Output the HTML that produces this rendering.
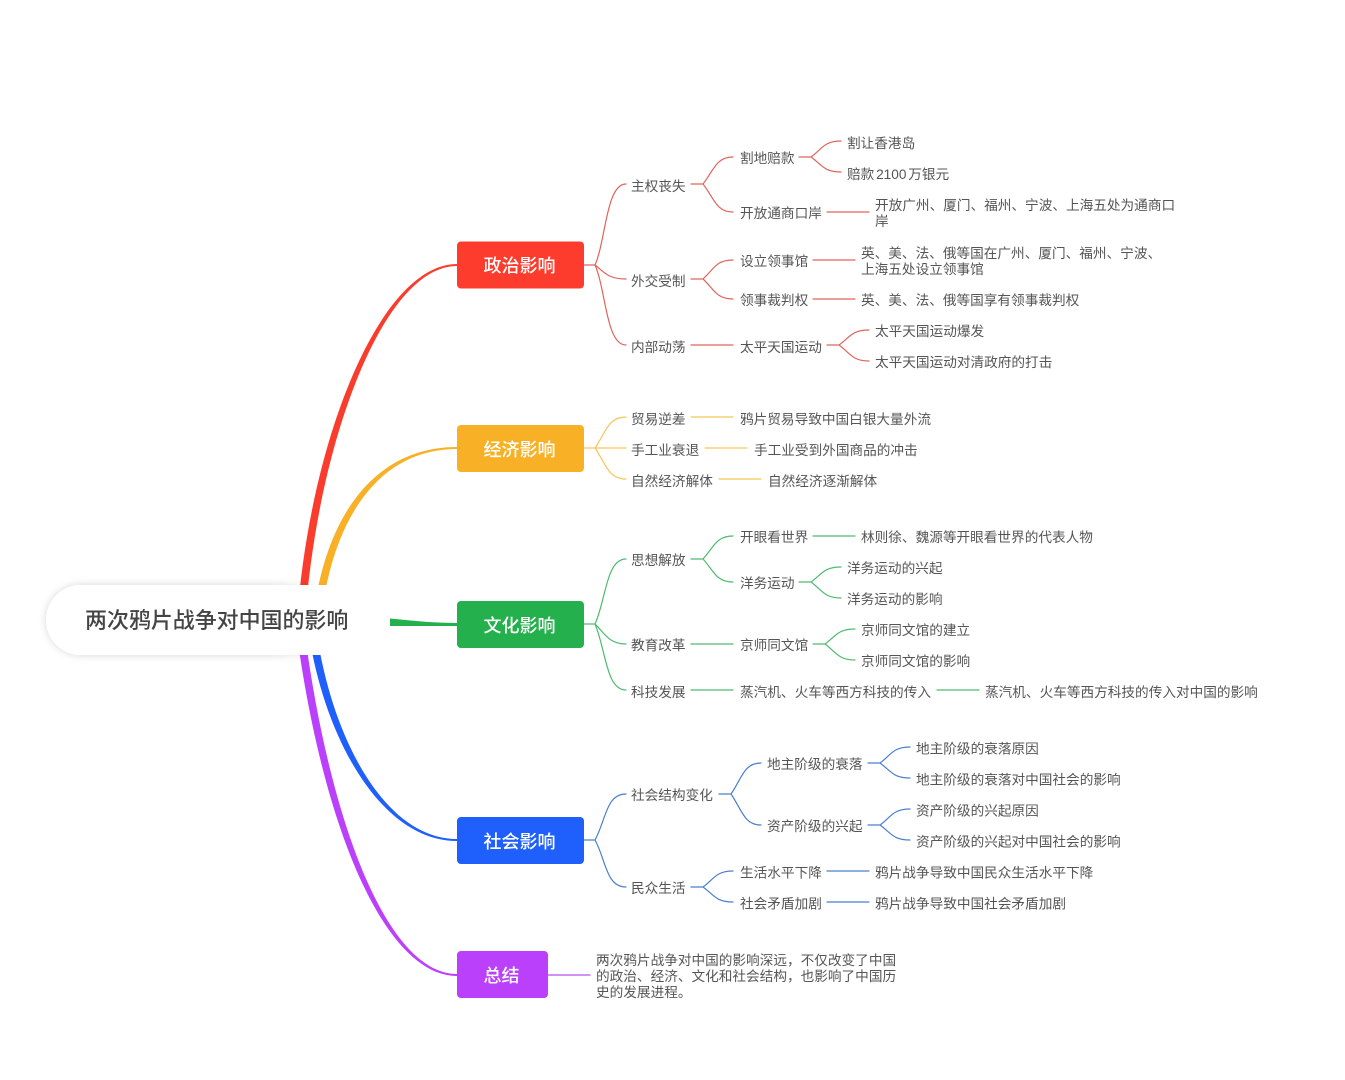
<!DOCTYPE html>
<html><head><meta charset="utf-8"><style>
html,body{margin:0;padding:0;background:#fff}
svg{display:block}
text{font-family:"Liberation Sans","Noto Sans CJK SC",sans-serif}
.t text{font-size:13.65px;fill:#555}
.b text{font-size:18px;fill:#fff;font-weight:500;text-anchor:middle}
.l{fill:none;stroke-width:1.2;stroke-linecap:round}
</style></head><body>
<svg width="1345" height="1080" viewBox="0 0 1345 1080" xmlns="http://www.w3.org/2000/svg">
<defs>
<filter id="s" x="-10%" y="-30%" width="120%" height="160%"><feDropShadow dx="0" dy="0" stdDeviation="4" flood-color="#000" flood-opacity="0.16"/></filter>
<linearGradient id="fg" gradientUnits="userSpaceOnUse" x1="270" y1="0" x2="335" y2="0"><stop offset="0" stop-color="#fff"/><stop offset="1" stop-color="#000"/></linearGradient>
<mask id="fade" maskUnits="userSpaceOnUse" x="0" y="560" width="420" height="120"><rect x="0" y="560" width="420" height="120" fill="url(#fg)"/></mask>
</defs>
<path fill="#fa3c2c" d="M297 620C310 440 380 264 457 264L457 266C384 266 318 440 305 620Z"/>
<path fill="#f8b127" d="M313 620C324 520 372 447 457 447L457 449C378 449 332 520 321 620Z"/>
<path fill="#1f5ffb" d="M307 620C320 730 378 841 457 841L457 839C382 839 328 730 315 620Z"/>
<path fill="#bb40fb" d="M295 620C320 820 383 976 457 976L457 974C387 974 328 820 303 620Z"/>
<path fill="#24b04c" d="M390 618.500C415 621 435 623 458 623L458 626C435 626 415 626 390 626Z"/>
<g mask="url(#fade)"><rect x="46" y="585" width="344" height="70" rx="35" fill="#fff" filter="url(#s)"/></g>
<rect x="46" y="585" width="344" height="70" rx="35" fill="#fff"/>
<text x="85" y="628" font-size="21.95" font-weight="500" fill="#444">两次鸦片战争对中国的影响</text>

<g class="l" stroke="#e0645c">
<path d="M584 265H595"/>
<path d="M595 265C606 240 606 184 626 184M595 265C604 272 608 279 626 279M595 265C606 290 606 345 626 345"/>
<path d="M691 184H703M703 184C714 170 716 157 733 157M703 184C714 198 716 212 733 212"/>
<path d="M799 157H811M811 157C822 149 824 141 841 141M811 157C822 165 824 172 841 172"/>
<path d="M827 212H869M691 279H703M703 279C714 269 716 260 733 260M703 279C714 289 716 299 733 299"/>
<path d="M813 260H855M813 299H855M691 345H733M827 345H839M839 345C850 337 852 330 869 330M839 345C850 353 852 361 869 361"/>
</g>
<g class="l" stroke="#f5c65a">
<path d="M584 448H626M595 448C606 432 608 417 626 417M595 448C606 464 608 479 626 479"/>
<path d="M691 417H733M705 448H747M719 479H761"/>
</g>
<g class="l" stroke="#4fbb70">
<path d="M584 624H595M595 624C606 600 606 559 626 559M595 624C604 632 608 644 626 644M595 624C606 650 606 690 626 690"/>
<path d="M691 559H703M703 559C714 547 716 536 733 536M703 559C714 571 716 582 733 582"/>
<path d="M813 536H855M799 582H811M811 582C822 574 824 567 841 567M811 582C822 590 824 598 841 598"/>
<path d="M691 644H733M813 644H825M825 644C836 636 838 629 855 629M825 644C836 652 838 660 855 660"/>
<path d="M691 690H733M937 690H979"/>
</g>
<g class="l" stroke="#4a7fd0">
<path d="M584 840H595M595 840C606 820 606 794 626 794M595 840C606 860 606 887 626 887"/>
<path d="M719 794H731M731 794C742 778 744 763 761 763M731 794C742 810 744 825 761 825"/>
<path d="M868 763H880M880 763C891 755 893 747 910 747M880 763C891 771 893 778 910 778"/>
<path d="M868 825H880M880 825C891 817 893 809 910 809M880 825C891 833 893 840 910 840"/>
<path d="M691 887H703M703 887C714 879 716 871 733 871M703 887C714 895 716 902 733 902"/>
<path d="M827 871H869M827 902H869"/>
</g>
<path class="l" stroke="#b850ee" d="M548 975H590"/>

<rect x="457" y="241.500" width="127" height="47" rx="4" fill="#fd3c2e"/>
<rect x="457" y="425" width="127" height="47" rx="4" fill="#f8b127"/>
<rect x="457" y="601" width="127" height="47" rx="4" fill="#24b04c"/>
<rect x="457" y="817" width="127" height="47" rx="4" fill="#1f5ffb"/>
<rect x="457" y="951" width="91" height="47" rx="4" fill="#bb40fb"/>
<g class="b">
<text x="519.500" y="272">政治影响</text>
<text x="519.500" y="456">经济影响</text>
<text x="519.500" y="632">文化影响</text>
<text x="519.500" y="848">社会影响</text>
<text x="501.500" y="982">总结</text>
</g>

<g class="t">
<text x="847" y="148">割让香港岛</text>
<text x="847" y="179" word-spacing="-2">赔款 2100 万银元</text>
<text x="740" y="163">割地赔款</text>
<text x="740" y="218">开放通商口岸</text>
<text x="875" y="210">开放广州、厦门、福州、宁波、上海五处为通商口</text>
<text x="875" y="226">岸</text>
<text x="631" y="191">主权丧失</text>
<text x="631" y="286">外交受制</text>
<text x="740" y="266">设立领事馆</text>
<text x="740" y="305">领事裁判权</text>
<text x="861" y="258">英、美、法、俄等国在广州、厦门、福州、宁波、</text>
<text x="861" y="274">上海五处设立领事馆</text>
<text x="861" y="305">英、美、法、俄等国享有领事裁判权</text>
<text x="631" y="352">内部动荡</text>
<text x="740" y="352">太平天国运动</text>
<text x="875" y="336">太平天国运动爆发</text>
<text x="875" y="367">太平天国运动对清政府的打击</text>

<text x="631" y="424">贸易逆差</text>
<text x="740" y="424">鸦片贸易导致中国白银大量外流</text>
<text x="631" y="455">手工业衰退</text>
<text x="754" y="455">手工业受到外国商品的冲击</text>
<text x="631" y="486">自然经济解体</text>
<text x="768" y="486">自然经济逐渐解体</text>

<text x="631" y="565">思想解放</text>
<text x="740" y="542">开眼看世界</text>
<text x="861" y="542">林则徐、魏源等开眼看世界的代表人物</text>
<text x="740" y="588">洋务运动</text>
<text x="847" y="573">洋务运动的兴起</text>
<text x="847" y="604">洋务运动的影响</text>
<text x="631" y="650">教育改革</text>
<text x="740" y="650">京师同文馆</text>
<text x="861" y="635">京师同文馆的建立</text>
<text x="861" y="666">京师同文馆的影响</text>
<text x="631" y="697">科技发展</text>
<text x="740" y="697">蒸汽机、火车等西方科技的传入</text>
<text x="985" y="697">蒸汽机、火车等西方科技的传入对中国的影响</text>

<text x="631" y="800">社会结构变化</text>
<text x="767" y="769">地主阶级的衰落</text>
<text x="916" y="753.500">地主阶级的衰落原因</text>
<text x="916" y="784.500">地主阶级的衰落对中国社会的影响</text>
<text x="767" y="831">资产阶级的兴起</text>
<text x="916" y="815.500">资产阶级的兴起原因</text>
<text x="916" y="846.500">资产阶级的兴起对中国社会的影响</text>
<text x="631" y="893">民众生活</text>
<text x="740" y="877.500">生活水平下降</text>
<text x="875" y="877.500">鸦片战争导致中国民众生活水平下降</text>
<text x="740" y="908.500">社会矛盾加剧</text>
<text x="875" y="908.500">鸦片战争导致中国社会矛盾加剧</text>

<text x="596" y="965">两次鸦片战争对中国的影响深远，不仅改变了中国</text>
<text x="596" y="981">的政治、经济、文化和社会结构，也影响了中国历</text>
<text x="596" y="997">史的发展进程。</text>
</g>
</svg>
</body></html>
